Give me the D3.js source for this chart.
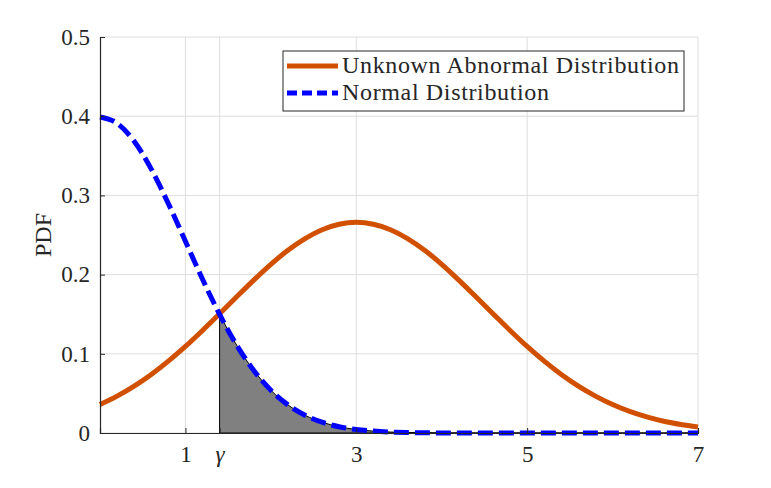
<html>
  <head>
    <title>Abnormal vs Normal PDF</title>
    <script src="https://d3js.org/d3.v7.min.js"></script>
    <style>
      body {
        margin: 0;
        background: #fff;
      }
      text {
        font-family: "Liberation Serif", "DejaVu Serif", serif;
        fill: #262626;
      }
      .grid line {
        stroke: #dedede;
        stroke-width: 1;
      }
    </style>
  </head>
  <body>
    <svg id="chart" width="771" height="488"></svg>

    <script>
      const xs = [
        0, 0.2, 0.4, 0.6, 0.8, 1.0, 1.2, 1.4, 1.6, 1.8, 2.0, 2.2, 2.4, 2.6,
        2.8, 3.0, 3.2, 3.4, 3.6, 3.8, 4.0, 4.2, 4.4, 4.6, 4.8, 5.0, 5.2, 5.4,
        5.6, 5.8, 6.0, 6.2, 6.4, 6.6, 6.8, 7.0,
      ];

      // orange solid curve
      const abnormal = [
        0.036, 0.0466, 0.0592, 0.0739, 0.0907, 0.1093, 0.1295, 0.1506, 0.172,
        0.1931, 0.213, 0.2307, 0.2455, 0.2567, 0.2636, 0.266, 0.2636, 0.2567,
        0.2455, 0.2307, 0.213, 0.1931, 0.172, 0.1506, 0.1295, 0.1093, 0.0907,
        0.0739, 0.0592, 0.0466, 0.036, 0.0273, 0.0204, 0.0149, 0.0108, 0.0076,
      ];

      // blue dashed curve
      const normal = [
        0.3989, 0.391, 0.3683, 0.3332, 0.2897, 0.242, 0.1942, 0.1497, 0.1109,
        0.079, 0.054, 0.0355, 0.0224, 0.0136, 0.0079, 0.0044, 0.0024, 0.0012,
        0.0006, 0.0003, 0.0001, 0.0001, 0, 0, 0, 0, 0, 0, 0, 0, 0, 0, 0, 0, 0,
        0,
      ];

      const gamma = 1.4;
      const xTickVals = [1, gamma, 3, 5, 7];
      const xTickLabels = ["1", "γ", "3", "5", "7"];
      const yTickVals = [0, 0.1, 0.2, 0.3, 0.4, 0.5];
      const yTickLabels = ["0", "0.1", "0.2", "0.3", "0.4", "0.5"];
      const legendLabels = ["Unknown Abnormal Distribution", "Normal Distribution"];

      const serif = '"Liberation Serif", "DejaVu Serif", serif';
      const orange = "#d05000";
      const blue = "#0000ff";

      const svg = d3.select("#chart");
      const margin = { left: 100, right: 73, top: 37, bottom: 55 };
      const width = 771 - margin.left - margin.right;
      const height = 488 - margin.top - margin.bottom;

      const xScale = d3.scaleLinear().domain([0, 7]).range([0, width]);
      const yScale = d3.scaleLinear().domain([0, 0.5]).range([height, 0]);

      const plot = svg
        .append("g")
        .attr("transform", `translate(${margin.left},${margin.top})`);

      // grid lines
      const grid = plot.append("g").attr("class", "grid");
      grid
        .selectAll("line.gx")
        .data(xTickVals)
        .join("line")
        .attr("x1", (d) => xScale(d))
        .attr("x2", (d) => xScale(d))
        .attr("y1", 0)
        .attr("y2", height);
      grid
        .selectAll("line.gy")
        .data(yTickVals)
        .join("line")
        .attr("x1", 0)
        .attr("x2", width)
        .attr("y1", (d) => yScale(d))
        .attr("y2", (d) => yScale(d));

      const pts = (ys) => xs.map((x, i) => [x, ys[i]]);
      const abnPts = pts(abnormal);
      const normPts = pts(normal);

      // shaded tail of the normal curve, right of gamma
      const tail = normPts.filter((d) => d[0] >= gamma);
      const area = d3
        .area()
        .x((d) => xScale(d[0]))
        .y0(yScale(0))
        .y1((d) => yScale(d[1]))
        .curve(d3.curveMonotoneX);
      plot
        .append("path")
        .datum(tail)
        .attr("d", area)
        .attr("fill", "#808080")
        .attr("stroke", "#000")
        .attr("stroke-width", 1);

      const line = d3
        .line()
        .x((d) => xScale(d[0]))
        .y((d) => yScale(d[1]))
        .curve(d3.curveMonotoneX);

      plot
        .append("path")
        .datum(abnPts)
        .attr("d", line)
        .attr("fill", "none")
        .attr("stroke", orange)
        .attr("stroke-width", 5);

      plot
        .append("path")
        .datum(normPts)
        .attr("d", line)
        .attr("fill", "none")
        .attr("stroke", blue)
        .attr("stroke-width", 5)
        .attr("stroke-dasharray", "15,6");

      // axes (MATLAB style: ticks pointing inward)
      const xAxis = d3
        .axisBottom(xScale)
        .tickValues(xTickVals)
        .tickSize(-5)
        .tickPadding(12)
        .tickFormat((d, i) => xTickLabels[i]);
      const yAxis = d3
        .axisLeft(yScale)
        .tickValues(yTickVals)
        .tickSize(-5)
        .tickPadding(12)
        .tickFormat((d, i) => yTickLabels[i]);

      const gx = plot
        .append("g")
        .attr("transform", `translate(0,${height})`)
        .call(xAxis);
      const gy = plot.append("g").call(yAxis);

      [gx, gy].forEach((g) => {
        g.attr("font-family", serif);
        g.select(".domain").attr("stroke", "#262626").attr("stroke-width", 1.2);
        g.selectAll(".tick line").attr("stroke", "#262626");
        g.selectAll(".tick text")
          .attr("font-size", 23)
          .attr("font-family", serif)
          .attr("fill", "#262626");
      });
      gx.selectAll(".tick text").attr("dy", "0.75em");
      gx.selectAll(".tick text")
        .filter((d, i) => i === 1)
        .style("font-style", "italic");
      gy.selectAll(".tick text").attr("dx", 2);

      // y label
      svg
        .append("text")
        .attr("transform", `translate(51,235) rotate(-90)`)
        .attr("text-anchor", "middle")
        .attr("font-family", serif)
        .attr("font-size", 24)
        .text("PDF");

      // legend
      const legend = svg.append("g").attr("transform", "translate(283,51)");
      legend
        .append("rect")
        .attr("width", 401)
        .attr("height", 60)
        .attr("fill", "#fff")
        .attr("stroke", "#262626")
        .attr("stroke-width", 1);

      const legendStyles = [
        { color: orange, dash: null, len: 337 },
        { color: blue, dash: "10,5", len: 207 },
      ];
      legendLabels.forEach((label, i) => {
        const y = 15 + i * 27;
        legend
          .append("line")
          .attr("x1", 4)
          .attr("x2", 55)
          .attr("y1", y)
          .attr("y2", y)
          .attr("stroke", legendStyles[i].color)
          .attr("stroke-width", 5)
          .attr("stroke-dasharray", legendStyles[i].dash);
        legend
          .append("text")
          .attr("x", 59)
          .attr("y", y + 7)
          .attr("font-family", serif)
          .attr("font-size", 24)
          .attr("textLength", legendStyles[i].len)
          .attr("lengthAdjust", "spacing")
          .text(label);
      });
    </script>
  </body>
</html>
